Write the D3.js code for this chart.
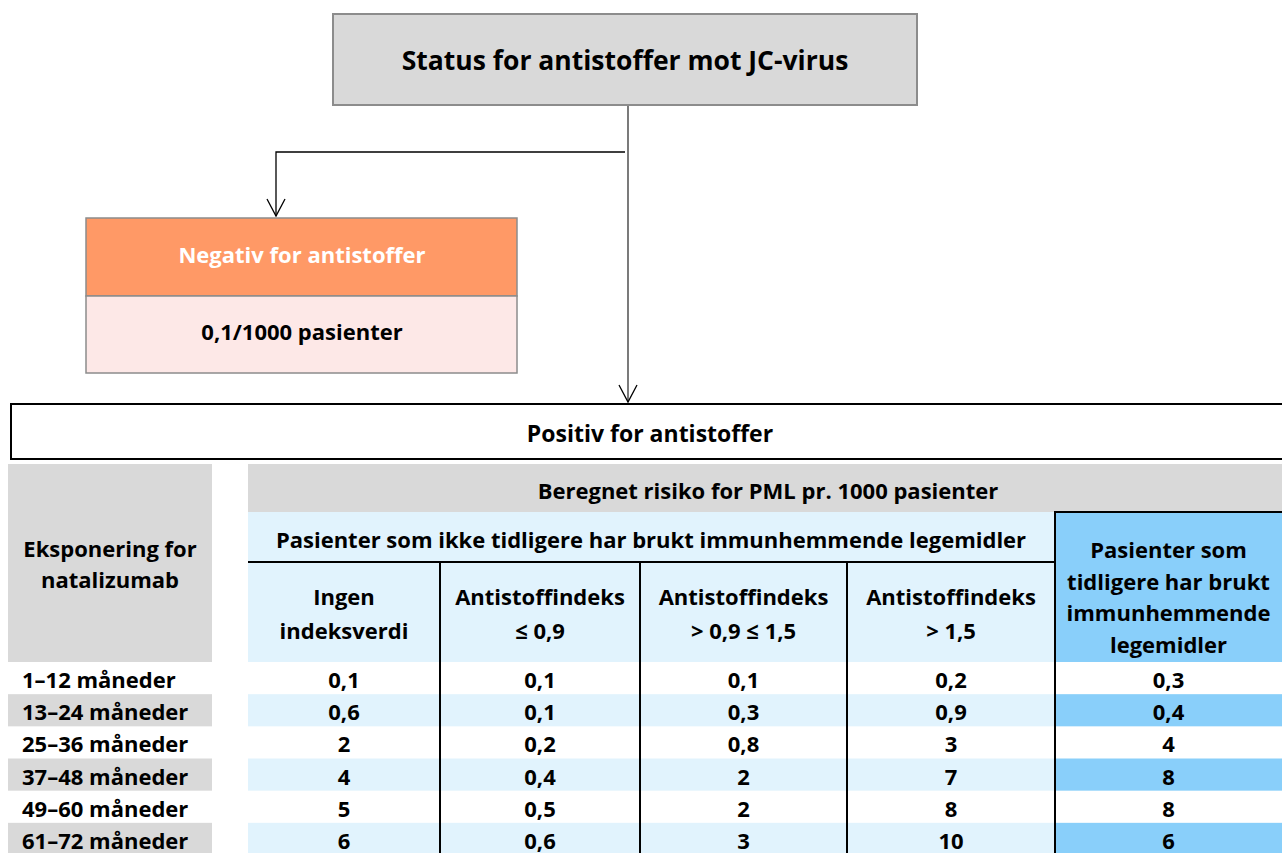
<!DOCTYPE html>
<html>
<head>
<meta charset="utf-8">
<script src="https://cdn.jsdelivr.net/npm/d3@7"></script>
<style>
  body { margin:0; background:#fff; }
  text { font-family: "Open Sans", Lato, sans-serif; font-weight:bold; }
</style>
</head>
<body>
<div id="chart"></div>
<script>
// Risiko for PML - flytskjema + tabell

var width=1282, height=853;

var titleText="Status for antistoffer mot JC-virus";
var negTitle="Negativ for antistoffer";
var negValue="0,1/1000 pasienter";
var posTitle="Positiv for antistoffer";
var riskHeader="Beregnet risiko for PML pr. 1000 pasienter";
var groupHeader="Pasienter som ikke tidligere har brukt immunhemmende legemidler";
var rowHeader=["Eksponering for","natalizumab"];

var columns=["ingen","le09","mid","gt15","prior"];
var columnLabels=[
  ["Ingen","indeksverdi"],
  ["Antistoffindeks","\u2264 0,9"],
  ["Antistoffindeks","> 0,9 \u2264 1,5"],
  ["Antistoffindeks","> 1,5"],
  ["Pasienter som","tidligere har brukt","immunhemmende","legemidler"]
];
var rowLabels=["1\u201312 m\u00e5neder","13\u201324 m\u00e5neder","25\u201336 m\u00e5neder",
               "37\u201348 m\u00e5neder","49\u201360 m\u00e5neder","61\u201372 m\u00e5neder"];

// verdier per kolonne
var ingen=["0,1","0,6","2","4","5","6"];
var le09 =["0,1","0,1","0,2","0,4","0,5","0,6"];
var mid  =["0,1","0,3","0,8","2","2","3"];
var gt15 =["0,2","0,9","3","7","8","10"];
var prior=["0,3","0,4","4","8","8","6"];
var values={ingen:ingen,le09:le09,mid:mid,gt15:gt15,prior:prior};

var gray="#d9d9d9", lightBlue="#e1f3fd", blue="#89cffa", orange="#ff9966", pink="#fde8e7";
var fs=22;

var svg=d3.select("#chart").append("svg")
    .attr("width",width).attr("height",height);

// kolonnekanter (tabell)
var colEdge=d3.scaleOrdinal().domain(columns.concat(["end"])).range([248,440,640,847,1055,1282]);
function colX(c){ return colEdge(c); }
function colW(c){ var i=columns.indexOf(c); return colEdge(columns[i+1]||"end")-colEdge(c); }
function colMid(c){ return colX(c)+colW(c)/2; }

var y=d3.scaleBand().domain(rowLabels).range([662,855]);

function arrowHead(x,y1){
  svg.append("path")
    .attr("d","M"+(x-9)+","+(y1-17)+" L"+x+","+y1+" L"+(x+9)+","+(y1-17))
    .attr("fill","none").attr("stroke","#000").attr("stroke-width",1.3);
}

function label(x,y1,txt,size,color){
  return svg.append("text").attr("x",x).attr("y",y1).attr("text-anchor","middle")
    .attr("dominant-baseline","central").attr("font-size",size).attr("fill",color||"#000").text(txt);
}

// topp-boks
svg.append("rect").attr("x",333).attr("y",14).attr("width",584).attr("height",91)
   .attr("fill",gray).attr("stroke","#8c8c8c").attr("stroke-width",2);
label(625,60,titleText,26.5);

// piler
svg.append("line").attr("x1",628).attr("y1",106).attr("x2",628).attr("y2",402)
   .attr("stroke","#333").attr("stroke-width",1.3);
arrowHead(628,402);
svg.append("path").attr("d","M625,152 L276,152 L276,216")
   .attr("fill","none").attr("stroke","#000").attr("stroke-width",1.3);
arrowHead(276,216);

// negativ-boks
svg.append("rect").attr("x",86).attr("y",218).attr("width",431).attr("height",78)
   .attr("fill",orange).attr("stroke","#8c8c8c").attr("stroke-width",1.5);
svg.append("rect").attr("x",86).attr("y",296).attr("width",431).attr("height",77)
   .attr("fill",pink).attr("stroke","#8c8c8c").attr("stroke-width",1.5);
label(302,254,negTitle,fs,"#fff");
label(302,331,negValue,fs);

// positiv-boks
svg.append("rect").attr("x",11).attr("y",404).attr("width",1290).attr("height",55)
   .attr("fill","#fff").attr("stroke","#000").attr("stroke-width",2);
label(650,433,posTitle,23);

// tabellhode
svg.append("rect").attr("x",8).attr("y",464).attr("width",204).attr("height",198).attr("fill",gray);
svg.selectAll(".rh").data(rowHeader).join("text")
   .attr("x",110).attr("y",(d,i)=>548+i*31).attr("text-anchor","middle")
   .attr("dominant-baseline","central").attr("font-size",fs).text(d=>d);

svg.append("rect").attr("x",248).attr("y",464).attr("width",1034).attr("height",48).attr("fill",gray);
label(768,490,riskHeader,fs);

svg.append("rect").attr("x",248).attr("y",512).attr("width",807).attr("height",150).attr("fill",lightBlue);
svg.append("rect").attr("x",1055).attr("y",512).attr("width",227).attr("height",150).attr("fill",blue);
label(651,539,groupHeader,fs);

// kolonneoverskrifter
columns.forEach(function(c,ci){
  var lines=columnLabels[ci];
  var top= ci<4 ? 596 : 549;
  svg.selectAll(".ch"+ci).data(lines).join("text")
     .attr("x",colMid(c)).attr("y",(d,i)=>top+i*(ci<4?34:31.5))
     .attr("text-anchor","middle").attr("dominant-baseline","central")
     .attr("font-size",fs).text(d=>d);
});

// rader
var rows=svg.selectAll(".row").data(rowLabels).join("g").attr("class","row");
rows.filter((d,i)=>i%2==1).append("rect")
   .attr("x",8).attr("y",d=>y(d)).attr("width",204).attr("height",y.bandwidth()).attr("fill",gray);
rows.filter((d,i)=>i%2==1).append("rect")
   .attr("x",colX("ingen")).attr("y",d=>y(d)).attr("width",colX("prior")-colX("ingen"))
   .attr("height",y.bandwidth()).attr("fill",lightBlue);
rows.filter((d,i)=>i%2==1).append("rect")
   .attr("x",colX("prior")).attr("y",d=>y(d)).attr("width",colW("prior"))
   .attr("height",y.bandwidth()).attr("fill",blue);
rows.append("text").attr("x",22).attr("y",d=>y(d)+y.bandwidth()/2+1)
   .attr("dominant-baseline","central").attr("font-size",fs).text(d=>d);

columns.forEach(function(c){
  svg.selectAll(".v_"+c).data(values[c]).join("text")
     .attr("x",colMid(c)).attr("y",(d,i)=>y(rowLabels[i])+y.bandwidth()/2+1)
     .attr("text-anchor","middle").attr("dominant-baseline","central")
     .attr("font-size",fs).text(d=>d);
});

// linjer
svg.append("line").attr("x1",248).attr("x2",1055).attr("y1",562).attr("y2",562)
   .attr("stroke","#000").attr("stroke-width",2);
svg.append("path").attr("d","M1055,"+height+" L1055,512 L1282,512")
   .attr("fill","none").attr("stroke","#000").attr("stroke-width",2);
svg.selectAll(".vl").data(["le09","mid","gt15"]).join("line")
   .attr("x1",colX).attr("x2",colX).attr("y1",562).attr("y2",height)
   .attr("stroke","#000").attr("stroke-width",2);
</script>
</body>
</html>
